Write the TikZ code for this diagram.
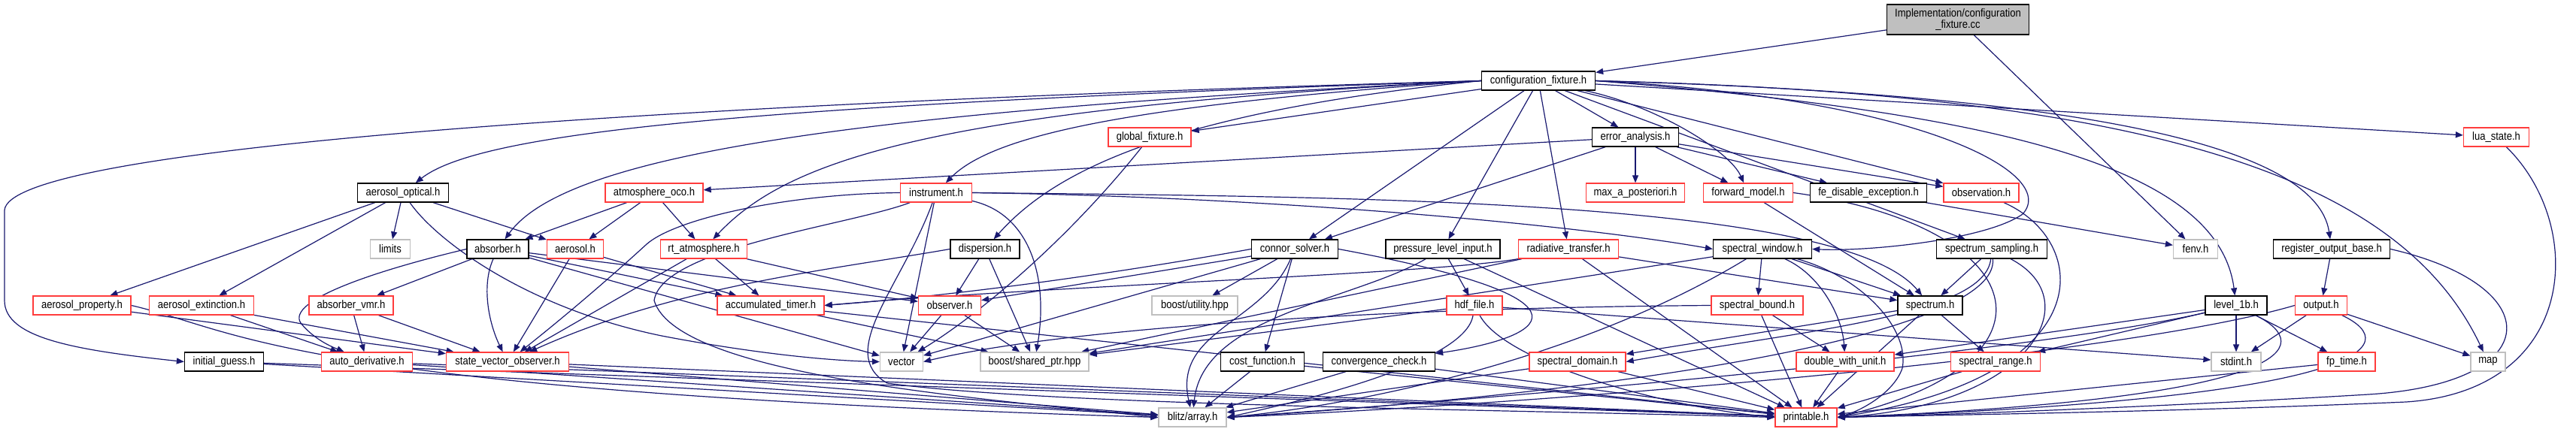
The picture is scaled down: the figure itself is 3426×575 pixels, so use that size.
\documentclass[tikz,border=0pt]{standalone}
\usepackage{fontspec}
\newfontfamily\dxfont[FakeStretch=0.87]{Liberation Sans}
\usetikzlibrary{arrows.meta,backgrounds}
\definecolor{edgec}{RGB}{25,25,112}
\definecolor{redb}{RGB}{255,60,60}
\definecolor{grayb}{RGB}{191,191,191}
\definecolor{implfill}{RGB}{191,191,191}
\tikzset{
 box/.style={draw=black, fill=white, line width=1.3pt, minimum height=25pt, inner sep=0pt, font=\dxfont\fontsize{15}{15}\selectfont},
 rbox/.style={box, draw=redb},
 gbox/.style={box, draw=grayb},
 edg/.style={draw=edgec, line width=1.2pt, -{Triangle[length=10pt,width=8pt]}},
}
\begin{document}
\begin{tikzpicture}[x=1pt,y=-1pt]
\useasboundingbox (0,0) rectangle (3426,575);
% row 0-1
\node[box, fill=implfill, minimum height=40pt, minimum width=189pt, align=center] (impl) at (2604,26) {Implementation/configuration\\\_fixture.cc};
\node[box, minimum width=151pt] (cfg) at (2046,107.5) {configuration\_fixture.h};
% row 2
\node[rbox, minimum width=110pt] (glob) at (1529,182.5) {global\_fixture.h};
\node[box, minimum width=115pt] (err) at (2175,182.5) {error\_analysis.h};
\node[rbox, minimum width=87pt] (lua) at (3320,182.5) {lua\_state.h};
% row 3
\node[box, minimum width=121pt] (aopt) at (536,256.5) {aerosol\_optical.h};
\node[rbox, minimum width=130pt] (aoco) at (870,256.5) {atmosphere\_oco.h};
\node[rbox, minimum width=95pt] (instr) at (1245,256.5) {instrument.h};
\node[rbox, minimum width=131pt] (mapost) at (2175,256.5) {max\_a\_posteriori.h};
\node[rbox, minimum width=119pt] (fwd) at (2325,256.5) {forward\_model.h};
\node[box, minimum width=155pt] (fed) at (2485,256.5) {fe\_disable\_exception.h};
\node[rbox, minimum width=100pt] (obsn) at (2635,256.5) {observation.h};
% row 4
\node[gbox, minimum width=53pt] (limits) at (519,331.5) {limits};
\node[box, minimum width=82pt] (absb) at (662,331.5) {absorber.h};
\node[rbox, minimum width=75pt] (aero) at (765,331.5) {aerosol.h};
\node[rbox, minimum width=115pt] (rta) at (936,331.5) {rt\_atmosphere.h};
\node[box, minimum width=92pt] (disp) at (1310,331.5) {dispersion.h};
\node[box, minimum width=115pt] (conn) at (1722,331.5) {connor\_solver.h};
\node[box, minimum width=152pt] (pli) at (1919,331.5) {pressure\_level\_input.h};
\node[rbox, minimum width=133pt] (radt) at (2086,331.5) {radiative\_transfer.h};
\node[box, minimum width=131pt] (swin) at (2344,331.5) {spectral\_window.h};
\node[box, minimum width=147pt] (ssamp) at (2649,331.5) {spectrum\_sampling.h};
\node[gbox, minimum width=59pt] (fenv) at (2920,331.5) {fenv.h};
\node[box, minimum width=155pt] (rob) at (3101,331.5) {register\_output\_base.h};
% row 5
\node[rbox, minimum width=130pt] (aprop) at (109,406.5) {aerosol\_property.h};
\node[rbox, minimum width=139pt] (aext) at (268,406.5) {aerosol\_extinction.h};
\node[rbox, minimum width=112pt] (avmr) at (467,406.5) {absorber\_vmr.h};
\node[rbox, minimum width=142pt] (acct) at (1025,406.5) {accumulated\_timer.h};
\node[rbox, minimum width=83pt] (obsr) at (1263,406.5) {observer.h};
\node[gbox, minimum width=114pt] (butil) at (1589,406.5) {boost/utility.hpp};
\node[rbox, minimum width=74pt] (hdf) at (1961,406.5) {hdf\_file.h};
\node[rbox, minimum width=122pt] (sbnd) at (2337,406.5) {spectral\_bound.h};
\node[box, minimum width=86pt] (spec) at (2567,406.5) {spectrum.h};
\node[box, minimum width=82pt] (l1b) at (2974,406.5) {level\_1b.h};
\node[rbox, minimum width=69pt] (outp) at (3087,406.5) {output.h};
% row 6
\node[box, minimum width=105pt] (iguess) at (298,481.5) {initial\_guess.h};
\node[rbox, minimum width=121pt] (adrv) at (488,481.5) {auto\_derivative.h};
\node[rbox, minimum width=163pt] (svo) at (675,481.5) {state\_vector\_observer.h};
\node[gbox, minimum width=57pt] (vec) at (1199,481.5) {vector};
\node[gbox, minimum width=144pt] (bsp) at (1376,481.5) {boost/shared\_ptr.hpp};
\node[box, minimum width=111pt] (costf) at (1679,481.5) {cost\_function.h};
\node[box, minimum width=149pt] (convc) at (1834,481.5) {convergence\_check.h};
\node[rbox, minimum width=128pt] (sdom) at (2098,481.5) {spectral\_domain.h};
\node[rbox, minimum width=130pt] (dwu) at (2454,481.5) {double\_with\_unit.h};
\node[rbox, minimum width=119pt] (srng) at (2654,481.5) {spectral\_range.h};
\node[gbox, minimum width=66pt] (stdint) at (2974,481.5) {stdint.h};
\node[rbox, minimum width=76pt] (fpt) at (3121,481.5) {fp\_time.h};
\node[gbox, minimum width=46pt] (mapn) at (3309,481.5) {map};
% row 7
\node[gbox, minimum width=90pt] (blitz) at (1586,555.5) {blitz/array.h};
\node[rbox, minimum width=82pt] (prt) at (2402,555.5) {printable.h};

\begin{pgfonlayer}{background}
\fill[white] (0,0) rectangle (3426,575);
% impl
\draw[edg] (impl) -- (cfg);
\draw[edg] (impl) -- (fenv);
% cfg
\draw[edg] (cfg.west) .. controls (800,140) and (10,200) .. (6,280) -- (6,400) .. controls (6,450) and (100,466) .. (iguess.west);
\draw[edg] (cfg.west) .. controls (1000,140) and (640,175) .. (aopt);
\draw[edg] (cfg.west) .. controls (1100,150) and (750,210) .. (absb);
\draw[edg] (cfg.west) .. controls (1500,140) and (1320,180) .. (instr);
\draw[edg] (cfg.west) .. controls (1250,145) and (1050,210) .. (rta);
\draw[edg] (cfg) -- (glob);
\draw[edg] (cfg.west) .. controls (1550,150) and (1400,230) .. (disp);
\draw[edg] (cfg) -- (conn);
\draw[edg] (cfg) -- (pli);
\draw[edg] (cfg) -- (radt);
\draw[edg] (cfg) -- (err);
\draw[edg] (cfg) .. controls (2200,140) and (2300,200) .. (fwd);
\draw[edg] (cfg) -- (obsn);
\draw[edg] (cfg.east) .. controls (2550,130) and (2740,230) .. (2690,285) .. controls (2640,320) and (2480,335) .. (swin.east);
\draw[edg] (cfg) -- (ssamp);
\draw[edg] (cfg.east) .. controls (2650,150) and (2950,220) .. (l1b);
\draw[edg] (cfg.east) .. controls (2750,125) and (3080,190) .. (rob);
\draw[edg] (cfg) -- (lua);
\draw[edg] (cfg.east) .. controls (2850,125) and (3190,230) .. (mapn);
% glob
\draw[edg] (glob) .. controls (1420,320) and (1300,420) .. (vec);
% err
\draw[edg] (err) -- (aoco);
\draw[edg] (err) -- (conn);
\draw[edg] (err) -- (mapost);
\draw[edg] (err) -- (fwd);
\draw[edg] (err) -- (fed);
\draw[edg] (err) -- (obsn);
% aopt
\draw[edg] (aopt) -- (aprop);
\draw[edg] (aopt) -- (aext);
\draw[edg] (aopt) -- (limits);
\draw[edg] (aopt) -- (aero);
\draw[edg] (aopt) .. controls (580,320) and (700,410) .. (880,447) .. controls (1000,470) and (1100,480) .. (vec.west);
% aoco
\draw[edg] (aoco) -- (absb);
\draw[edg] (aoco) -- (aero);
\draw[edg] (aoco) -- (rta);
% instr
\draw[edg] (instr.west) .. controls (1050,258) and (900,290) .. (860,325) .. controls (800,380) and (740,430) .. (svo);
\draw[edg] (instr) .. controls (1130,300) and (880,330) .. (870,400) .. controls (900,500) and (1300,530) .. (blitz.west);
\draw[edg] (instr) -- (vec);
\draw[edg] (instr) .. controls (1200,380) and (1110,470) .. (1180,510) .. controls (1400,540) and (2000,545) .. (prt.west);
\draw[edg] (instr.east) .. controls (1700,262) and (2100,300) .. (swin.west);
\draw[edg] (instr.east) .. controls (1800,262) and (2450,265) .. (spec);
\draw[edg] (instr) .. controls (1370,285) and (1395,370) .. (bsp);
% disp
\draw[edg] (disp) -- (obsr);
\draw[edg] (disp.west) .. controls (1100,360) and (900,380) .. (svo);
\draw[edg] (disp) -- (bsp);
% conn
\draw[edg] (conn.west) .. controls (1450,370) and (1250,395) .. (acct.east);
\draw[edg] (conn) -- (obsr);
\draw[edg] (conn) -- (vec);
\draw[edg] (conn) -- (butil);
\draw[edg] (conn) .. controls (1680,430) and (1560,440) .. (blitz);
\draw[edg] (conn) -- (costf);
\draw[edg] (conn.east) .. controls (2150,400) and (2050,450) .. (convc);
% pli
\draw[edg] (pli) -- (hdf);
\draw[edg] (pli) .. controls (1800,400) and (1600,420) .. (blitz);
\draw[edg] (pli) -- (prt);
% radt
\draw[edg] (radt.south west) .. controls (1900,365) and (1400,380) .. (acct.east);
\draw[edg] (radt) -- (bsp);
\draw[edg] (radt) -- (prt);
\draw[edg] (radt) -- (spec);
% swin
\draw[edg] (swin) -- (sbnd);
\draw[edg] (swin) -- (spec);
\draw[edg] (swin) .. controls (2420,365) and (2450,420) .. (dwu);
\draw[edg] (swin) .. controls (2480,370) and (2540,440) .. (2530,490) .. controls (2520,520) and (2480,545) .. (prt.east);
\draw[edg] (swin) .. controls (2100,480) and (1800,540) .. (blitz.east);
\draw[edg] (swin) -- (bsp);
% ssamp
\draw[edg] (ssamp) -- (spec);
\draw[edg] (ssamp) .. controls (2640,420) and (2400,440) .. (sdom.east);
\draw[edg] (ssamp) .. controls (2780,400) and (2700,540) .. (prt.east);
\draw[edg] (ssamp) .. controls (2660,440) and (2200,520) .. (blitz.east);
% spec
\draw[edg] (spec) -- (sdom);
\draw[edg] (spec) -- (srng);
\draw[edg] (spec) -- (prt);
% sbnd
\draw[edg] (sbnd) -- (prt);
\draw[edg] (sbnd) -- (dwu);
\draw[edg] (sbnd.west) .. controls (1800,410) and (1400,440) .. (vec.east);
% hdf
\draw[edg] (hdf) -- (bsp);
\draw[edg] (hdf) .. controls (1950,480) and (1750,530) .. (blitz.east);
\draw[edg] (hdf) .. controls (2000,480) and (2200,540) .. (prt.west);
\draw[edg] (hdf) -- (stdint);
% l1b
\draw[edg] (l1b) -- (stdint);
\draw[edg] (l1b) -- (fpt);
\draw[edg] (l1b) -- (dwu);
\draw[edg] (l1b) -- (srng);
\draw[edg] (l1b) .. controls (2700,470) and (2000,530) .. (blitz.east);
\draw[edg] (l1b) .. controls (3080,460) and (3060,530) .. (prt.east);
% outp
\draw[edg] (outp) -- (stdint);
\draw[edg] (outp) -- (mapn);
\draw[edg] (outp.west) .. controls (2800,480) and (2000,540) .. (blitz.east);
\draw[edg] (outp) .. controls (3200,460) and (3150,530) .. (prt.east);
% rob, lua
\draw[edg] (rob) -- (outp);
\draw[edg] (rob.east) .. controls (3390,380) and (3390,510) .. (3150,525) .. controls (2900,540) and (2600,552) .. (prt.east);
\draw[edg] (lua) .. controls (3440,300) and (3430,520) .. (3200,535) .. controls (2900,548) and (2600,552) .. (prt.east);
% lower nodes
\draw[edg] (fpt) -- (prt);
\draw[edg] (srng) -- (prt);
\draw[edg] (dwu) -- (prt);
\draw[edg] (sdom) -- (prt);
\draw[edg] (sdom) -- (blitz);
\draw[edg] (costf) -- (blitz);
\draw[edg] (costf) -- (prt);
\draw[edg] (convc) -- (blitz);
\draw[edg] (convc) -- (prt);
\draw[edg] (acct) -- (bsp);
\draw[edg] (acct) -- (prt);
\draw[edg] (obsr) -- (vec);
\draw[edg] (obsr) -- (bsp);
% absb
\draw[edg] (absb.west) .. controls (500,360) and (380,400) .. (400,430) .. controls (420,455) and (450,465) .. (adrv);
\draw[edg] (absb) -- (avmr);
\draw[edg] (absb) .. controls (640,380) and (650,430) .. (svo);
\draw[edg] (absb) -- (acct);
\draw[edg] (absb) -- (obsr);
\draw[edg] (absb) -- (vec);
% aero, rta
\draw[edg] (aero) -- (svo);
\draw[edg] (aero) -- (acct);
\draw[edg] (rta) -- (svo);
\draw[edg] (rta) -- (acct);
\draw[edg] (rta) -- (obsr);
% row 5 left
\draw[edg] (avmr) -- (adrv);
\draw[edg] (avmr) -- (svo);
\draw[edg] (aprop) -- (svo);
\draw[edg] (aprop.east) .. controls (320,440) and (380,520) .. (blitz.west);
\draw[edg] (aext) -- (adrv);
\draw[edg] (aext) -- (svo);
% row 6 left
\draw[edg] (iguess) -- (blitz);
\draw[edg] (iguess) -- (prt);
\draw[edg] (adrv) -- (blitz);
\draw[edg] (adrv) -- (prt);
\draw[edg] (svo) -- (blitz);
\draw[edg] (svo) -- (prt);
% misc
\draw[edg] (fed) -- (fenv);
\draw[edg] (obsn) .. controls (2780,320) and (2800,500) .. (prt.east);
\draw[edg] (fwd) -- (spec);
\draw[edg] (fwd.east) .. controls (2700,300) and (2760,480) .. (prt.east);
\end{pgfonlayer}
\end{tikzpicture}
\end{document}
